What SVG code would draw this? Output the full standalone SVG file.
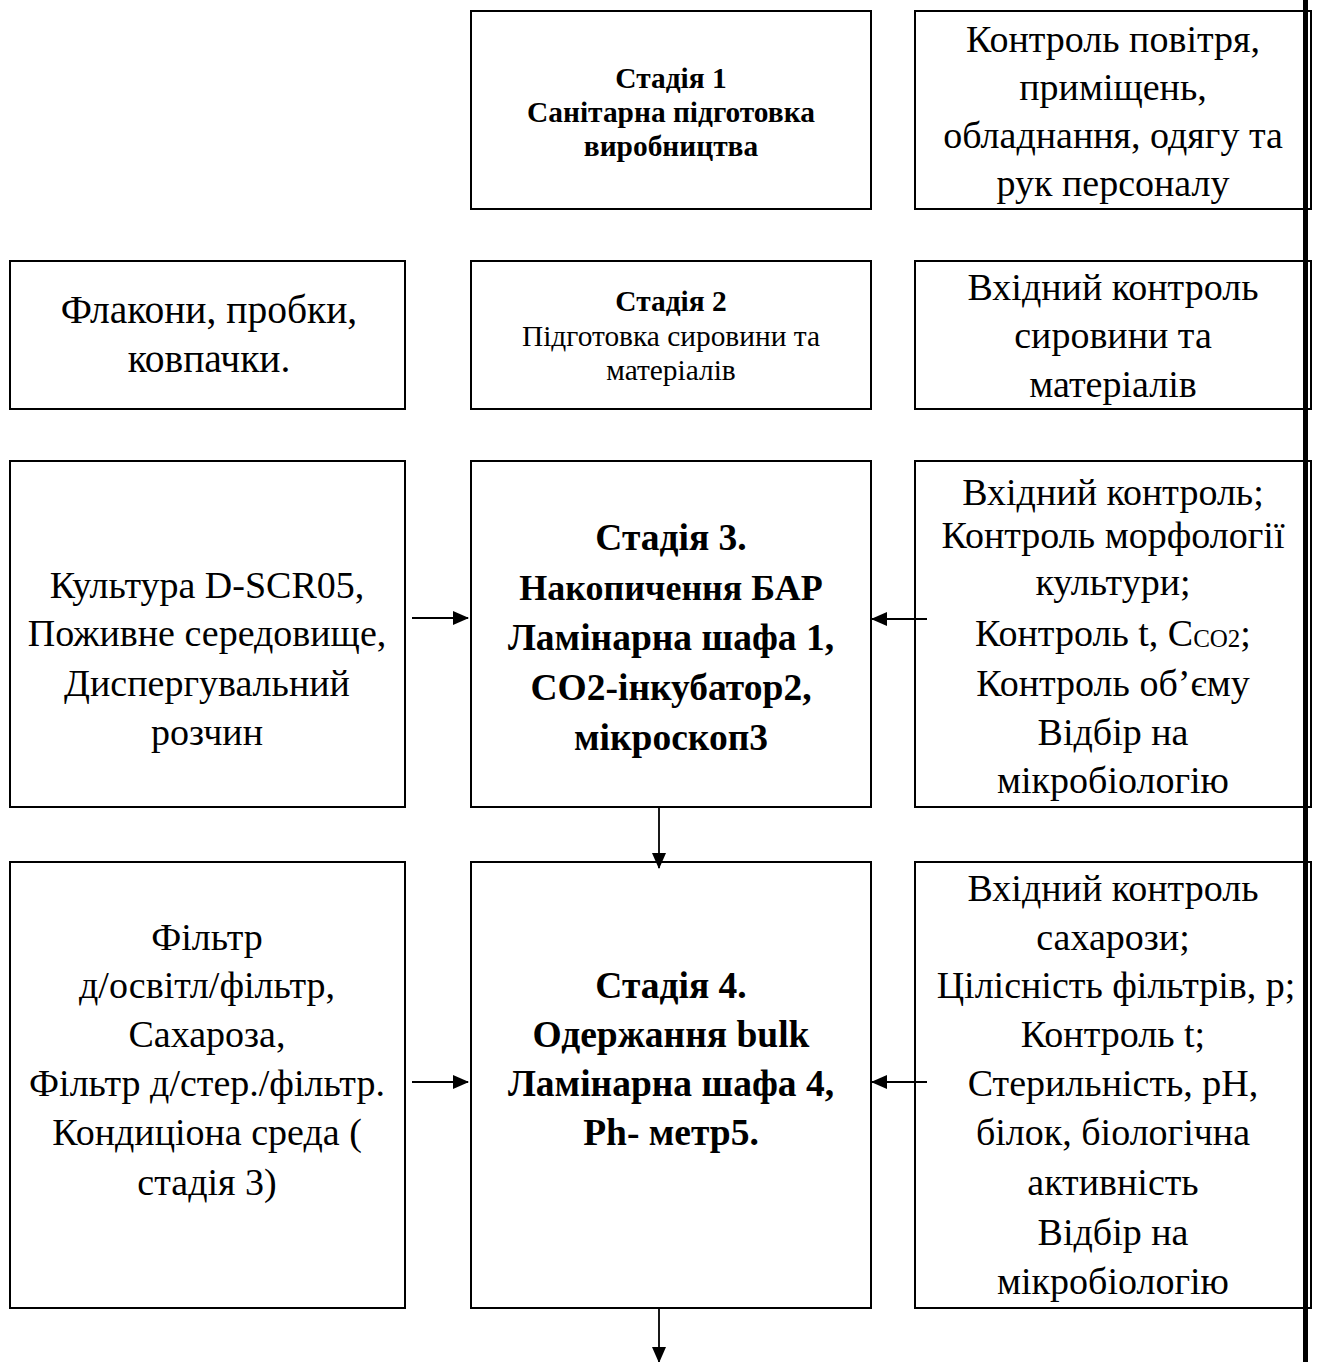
<svg xmlns="http://www.w3.org/2000/svg" width="1319" height="1362" viewBox="0 0 1319 1362">
<style>
rect.box{fill:#fff;stroke:#000;stroke-width:2}
text{font-family:"Liberation Serif","Times New Roman",serif;fill:#000;text-anchor:middle}
.big{font-size:38px}
.bigb{font-size:37.5px;font-weight:bold}
.sm{font-size:29.4px}
.smb{font-size:29.4px;font-weight:bold}
.conn{stroke:#000;stroke-width:1.8;fill:none}
</style>
<defs>
<marker id="ah" markerWidth="16" markerHeight="14" refX="15" refY="7" orient="auto" markerUnits="userSpaceOnUse">
<path d="M0,0 L16,7 L0,14 Z" fill="#000"/>
</marker>
</defs>
<rect x="0" y="0" width="1319" height="1362" fill="#fff"/>

<g id="stage1">
<rect class="box" x="471" y="11" width="400" height="198"/>
<text class="smb" x="671" y="88">Стадія 1</text>
<text class="smb" x="671" y="122">Санітарна підготовка</text>
<text class="smb" x="671" y="156">виробництва</text>
</g>
<g id="control1">
<rect class="box" x="915" y="11" width="396" height="198"/>
<text class="big" x="1113" y="52">Контроль повітря,</text>
<text class="big" x="1113" y="100">приміщень,</text>
<text class="big" x="1113" y="148">обладнання, одягу та</text>
<text class="big" x="1113" y="196">рук персоналу</text>
</g>

<g id="materials2">
<rect class="box" x="10" y="261" width="395" height="148"/>
<text class="big" x="209" y="323" style="font-size:39.5px">Флакони, пробки,</text>
<text class="big" x="209" y="372" style="font-size:39.5px">ковпачки.</text>
</g>
<g id="stage2">
<rect class="box" x="471" y="261" width="400" height="148"/>
<text class="smb" x="671" y="311">Стадія 2</text>
<text class="sm" x="671" y="346">Підготовка сировини та</text>
<text class="sm" x="671" y="380">матеріалів</text>
</g>
<g id="control2">
<rect class="box" x="915" y="261" width="396" height="148"/>
<text class="big" x="1113" y="300">Вхідний контроль</text>
<text class="big" x="1113" y="348">сировини та</text>
<text class="big" x="1113" y="397">матеріалів</text>
</g>

<g id="materials3">
<rect class="box" x="10" y="461" width="395" height="346"/>
<text class="big" x="207" y="598">Культура D-SCR05,</text>
<text class="big" x="207" y="646">Поживне середовище,</text>
<text class="big" x="207" y="696">Диспергувальний</text>
<text class="big" x="207" y="745">розчин</text>
</g>
<g id="stage3">
<rect class="box" x="471" y="461" width="400" height="346"/>
<text class="bigb" x="671" y="550">Стадія 3.</text>
<text class="bigb" x="671" y="600" style="font-size:36px">Накопичення БАР</text>
<text class="bigb" x="671" y="650">Ламінарна шафа 1,</text>
<text class="bigb" x="671" y="700">СО2-інкубатор2,</text>
<text class="bigb" x="671" y="750">мікроскоп3</text>
</g>
<g id="control3">
<rect class="box" x="915" y="461" width="396" height="346"/>
<text class="big" x="1113" y="505">Вхідний контроль;</text>
<text class="big" x="1113" y="548">Контроль морфології</text>
<text class="big" x="1113" y="595">культури;</text>
<text class="big" x="1113" y="646">Контроль t, C<tspan font-size="25px" dy="1">CO2</tspan><tspan dy="-1">;</tspan></text>
<text class="big" x="1113" y="696">Контроль об’єму</text>
<text class="big" x="1113" y="745">Відбір на</text>
<text class="big" x="1113" y="793">мікробіологію</text>
</g>

<g id="materials4">
<rect class="box" x="10" y="862" width="395" height="446"/>
<text class="big" x="207" y="950">Фільтр</text>
<text class="big" x="207" y="998">д/освітл/фільтр,</text>
<text class="big" x="207" y="1047">Сахароза,</text>
<text class="big" x="207" y="1096">Фільтр д/стер./фільтр.</text>
<text class="big" x="207" y="1145">Кондиціона среда (</text>
<text class="big" x="207" y="1195">стадія 3)</text>
</g>
<g id="stage4">
<rect class="box" x="471" y="862" width="400" height="446"/>
<text class="bigb" x="671" y="998">Стадія 4.</text>
<text class="bigb" x="671" y="1047">Одержання bulk</text>
<text class="bigb" x="671" y="1096">Ламінарна шафа 4,</text>
<text class="bigb" x="671" y="1145">Ph- метр5.</text>
</g>
<g id="control4">
<rect class="box" x="915" y="862" width="396" height="446"/>
<text class="big" x="1113" y="901">Вхідний контроль</text>
<text class="big" x="1113" y="950">сахарози;</text>
<text class="big" x="1116" y="998">Цілісність фільтрів, p;</text>
<text class="big" x="1113" y="1047">Контроль t;</text>
<text class="big" x="1113" y="1096">Стерильність, pH,</text>
<text class="big" x="1113" y="1145">білок, біологічна</text>
<text class="big" x="1113" y="1195">активність</text>
<text class="big" x="1113" y="1245">Відбір на</text>
<text class="big" x="1113" y="1294">мікробіологію</text>
</g>

<line x1="1305.5" y1="0" x2="1305.5" y2="1362" stroke="#000" stroke-width="5"/>

<g id="connectors">
<line class="conn" x1="412" y1="618" x2="468" y2="618" marker-end="url(#ah)"/>
<line class="conn" x1="927" y1="619" x2="872" y2="619" marker-end="url(#ah)"/>
<line class="conn" x1="659" y1="807" x2="659" y2="868" marker-end="url(#ah)"/>
<line class="conn" x1="412" y1="1082" x2="468" y2="1082" marker-end="url(#ah)"/>
<line class="conn" x1="927" y1="1082" x2="872" y2="1082" marker-end="url(#ah)"/>
<line class="conn" x1="659" y1="1308" x2="659" y2="1362" marker-end="url(#ah)"/>
</g>
</svg>
